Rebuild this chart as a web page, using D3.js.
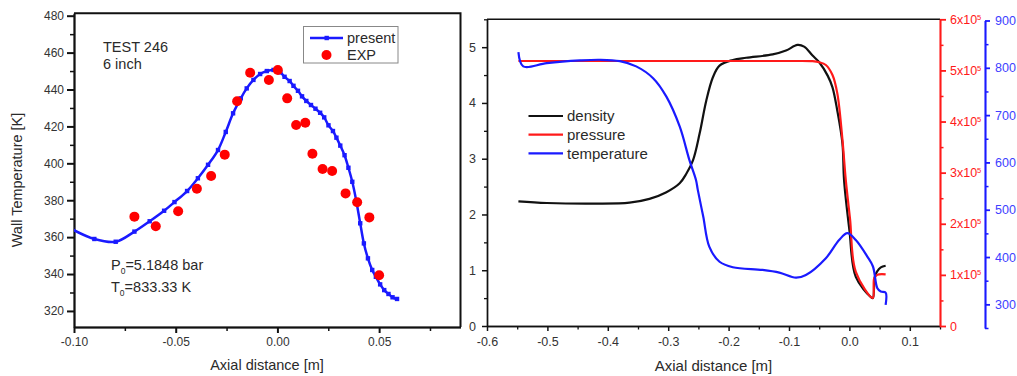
<!DOCTYPE html>
<html>
<head>
<meta charset="utf-8">
<script src="https://cdn.jsdelivr.net/npm/d3@7"></script>
<style>
  body { margin: 0; background: #fff; }
  svg { display: block; font-family: "Liberation Sans", Arial, sans-serif; }
</style>
</head>
<body>
<svg id="chart" width="1017" height="376"></svg>
<script>
// left panel: wall temperature, test 246
const wallX = [-0.101, -0.090, -0.0795, -0.0703, -0.0628, -0.0557, -0.0506, -0.0444, -0.0391, -0.0341,
  -0.0292, -0.0254, -0.0218, -0.018, -0.0151, -0.0118, -0.0085, -0.0052, -0.0019, 0.0014,
  0.0035, 0.006, 0.0079, 0.0101, 0.0121, 0.0142, 0.0165, 0.0187, 0.021, 0.023,
  0.0251, 0.0273, 0.029, 0.0309, 0.033, 0.0349, 0.0368, 0.0387, 0.0407, 0.0425,
  0.0445, 0.0466, 0.0484, 0.0505, 0.0525, 0.0546, 0.0566, 0.0588];
const wallT = [364.3, 359, 357.5, 363, 368.6, 374.3, 379, 385, 391.9, 399.2,
  407.2, 417, 427.1, 435.2, 440.6, 445.2, 448.4, 450, 450.6, 449.3,
  446.9, 444.6, 442, 439.3, 436.3, 433.8, 431.6, 429.6, 427.4, 424.9,
  420.6, 417.5, 413.9, 409.6, 404.4, 397.6, 390, 380, 367.5, 356.6,
  348.5, 342.2, 338.5, 334.4, 331.3, 329.2, 327.4, 326.5];
const expX = [-0.0703, -0.0598, -0.0488, -0.0396, -0.0326, -0.0259, -0.0198, -0.0134, -0.0042, 0.0002,
  0.0048, 0.0092, 0.0137, 0.0172, 0.0222, 0.0269, 0.0335, 0.0392, 0.0452, 0.050];
const expT = [371.1, 365.9, 374, 386.2, 393.1, 404.7, 433.6, 449.1, 445.2, 450.6,
  435.2, 420.8, 422, 405.2, 396.9, 395.8, 383.7, 378.9, 370.7, 339.3];
const leftXTicks = [-0.10, -0.05, 0.00, 0.05];
const leftYTicks = [320, 340, 360, 380, 400, 420, 440, 460, 480];

// right panel: flow quantities along the axis
const densX = [-0.548, -0.501, -0.419, -0.364, -0.331, -0.303, -0.281, -0.270, -0.259, -0.248,
  -0.237, -0.226, -0.215, -0.193, -0.171, -0.127, -0.105, -0.086, -0.075, -0.061,
  -0.050, -0.036, -0.028, -0.020, -0.0115, -0.0088, 0.000, 0.0106, 0.0353, 0.0388,
  0.042, 0.046, 0.052, 0.060];
const density = [2.236, 2.206, 2.195, 2.213, 2.28, 2.40, 2.56, 2.73, 2.97, 3.45,
  4.04, 4.46, 4.67, 4.77, 4.81, 4.87, 4.94, 5.04, 5.01, 4.85,
  4.73, 4.49, 4.28, 3.86, 3.27, 2.61, 1.72, 0.88, 0.52, 0.50,
  0.88, 0.98, 1.05, 1.08];
const presX = [-0.548, -0.30, -0.10, -0.061, -0.050, -0.039, -0.028, -0.020, -0.0115, -0.006,
  0.001, 0.0106, 0.0388, 0.041, 0.046, 0.060];
const pressure = [5.184e5, 5.184e5, 5.184e5, 5.18e5, 5.16e5, 5.106e5, 4.91e5, 4.55e5, 3.64e5, 2.86e5,
  2.1e5, 1.06e5, 0.55e5, 0.93e5, 1.0e5, 1.01e5];
const tempX = [-0.548, -0.540, -0.501, -0.446, -0.413, -0.380, -0.353, -0.325, -0.303, -0.281,
  -0.265, -0.254, -0.251, -0.242, -0.232, -0.215, -0.193, -0.144, -0.116, -0.0885,
  -0.072, -0.039, -0.017, -0.0033, 0.0106, 0.0297, 0.039, 0.0463, 0.052, 0.060, 0.060];
const temperature = [833, 803, 810, 815.6, 817, 814, 803, 778, 739, 676,
  605.5, 563, 542, 485.5, 422, 390, 378.4, 372.7, 367, 356.4,
  362, 397.5, 436, 450.4, 436, 401, 380, 334, 327, 324.7, 298.7];
const rightXTicks = [-0.6, -0.5, -0.4, -0.3, -0.2, -0.1, 0.0, 0.1];
const densTicks = [0, 1, 2, 3, 4, 5];
const presTicks = [0, 1e5, 2e5, 3e5, 4e5, 5e5, 6e5];
const tempTicks = [300, 400, 500, 600, 700, 800, 900];
const rightSeries = ["density", "pressure", "temperature"];

const svg = d3.select("#chart");
const ink = "#2a2a2a";
const RED = "#ff1a1a", BLUE = "#1a1aff";

function styleAxis(g, size, color, width) {
  g.selectAll("path,line").attr("stroke", color).attr("stroke-width", width);
  g.selectAll("text").attr("fill", color === "#111" ? "#333" : color)
    .style("font-size", size + "px").style("font-family", "Liberation Sans, Arial, sans-serif");
}

// ---------------- left panel ----------------
const xL = d3.scaleLinear().domain([-0.1, 0.09]).range([74, 460.5]);
const yL = d3.scaleLinear().domain([311.3, 481.3]).range([327, 13.3]);

svg.append("clipPath").attr("id", "clipL")
  .append("rect").attr("x", 74).attr("y", 13.3).attr("width", 386.5).attr("height", 313.7);

const gL = svg.append("g");

gL.append("g").attr("transform", "translate(0,327)")
  .call(d3.axisBottom(xL).tickValues(d3.range(-0.075, 0.09, 0.05)).tickSize(4).tickFormat("").tickSizeOuter(0))
  .call(g => styleAxis(g, 12, "#111", 1.5));
gL.append("g").attr("transform", "translate(0,327)")
  .call(d3.axisBottom(xL).tickValues(leftXTicks).tickSize(6).tickPadding(4).tickSizeOuter(0)
    .tickFormat(d => d.toFixed(2)))
  .call(g => styleAxis(g, 12, "#111", 2));
gL.append("g").attr("transform", "translate(74,0)")
  .call(d3.axisLeft(yL).tickValues(d3.range(330, 480, 20)).tickSize(4).tickFormat("").tickSizeOuter(0))
  .call(g => styleAxis(g, 12, "#111", 1.5));
gL.append("g").attr("transform", "translate(74,0)")
  .call(d3.axisLeft(yL).tickValues(leftYTicks).tickSize(7).tickPadding(3).tickSizeOuter(0)
    .tickFormat(d => String(d)))
  .call(g => styleAxis(g, 12, "#111", 2));

gL.append("path")
  .attr("d", `M${xL.range()[0]},${yL.range()[1]}H${xL.range()[1]}V${yL.range()[0]}`)
  .attr("fill", "none").attr("stroke", "#111").attr("stroke-width", 2);

const wallPts = wallX.map((x, i) => [x, wallT[i]]);
const plotL = gL.append("g").attr("clip-path", "url(#clipL)");
plotL.append("path")
  .attr("d", d3.line().x(d => xL(d[0])).y(d => yL(d[1])).curve(d3.curveCatmullRom.alpha(0.5))(wallPts))
  .attr("fill", "none").attr("stroke", BLUE).attr("stroke-width", 2.5);
plotL.selectAll("rect.mk").data(wallPts).join("rect").attr("class", "mk")
  .attr("x", d => xL(d[0]) - 2.2).attr("y", d => yL(d[1]) - 2.2)
  .attr("width", 4.4).attr("height", 4.4).attr("fill", BLUE);
plotL.selectAll("circle").data(expX.map((x, i) => [x, expT[i]])).join("circle")
  .attr("cx", d => xL(d[0])).attr("cy", d => yL(d[1])).attr("r", 5).attr("fill", "#ff0000");

// legend
gL.append("rect").attr("x", 303.5).attr("y", 26.5).attr("width", 94.5).attr("height", 36.5)
  .attr("fill", "#fff").attr("stroke", "#888").attr("stroke-width", 1);
gL.append("line").attr("x1", 310).attr("x2", 343).attr("y1", 38).attr("y2", 38)
  .attr("stroke", BLUE).attr("stroke-width", 2.5);
gL.append("rect").attr("x", 326.7 - 2.2).attr("y", 38 - 2.2).attr("width", 4.4).attr("height", 4.4).attr("fill", BLUE);
gL.append("circle").attr("cx", 326.5).attr("cy", 55).attr("r", 5).attr("fill", "#ff0000");
gL.append("text").attr("x", 347).attr("y", 43).text("present").attr("fill", ink).style("font-size", "14.5px");
gL.append("text").attr("x", 347).attr("y", 60).text("EXP").attr("fill", ink).style("font-size", "14.5px");

// annotations
gL.append("text").attr("x", 103).attr("y", 52.3).text("TEST 246").attr("fill", ink).style("font-size", "14.5px");
gL.append("text").attr("x", 103).attr("y", 69.3).text("6 inch").attr("fill", ink).style("font-size", "14.5px");
[["P", "=5.1848 bar", 270], ["T", "=833.33 K", 291.7]].forEach(([sym, rest, yb]) => {
  const t = gL.append("text").attr("x", 111).attr("y", yb).attr("fill", ink).style("font-size", "14.5px");
  t.append("tspan").text(sym);
  t.append("tspan").attr("dy", 4).style("font-size", "8.5px").text("0");
  t.append("tspan").attr("dy", -4).text(rest);
});

gL.append("text").attr("transform", "translate(22,180) rotate(-90)").attr("text-anchor", "middle")
  .text("Wall Temperature [K]").attr("fill", ink).style("font-size", "14.5px");
gL.append("text").attr("x", 267).attr("y", 370).attr("text-anchor", "middle")
  .text("Axial distance [m]").attr("fill", ink).style("font-size", "14.5px");

// ---------------- right panel ----------------
const xR = d3.scaleLinear().domain([-0.6, 0.15]).range([487, 940]);
const yD = d3.scaleLinear().domain([0, 5.5]).range([326, 19.3]);
const yP = d3.scaleLinear().domain([0, 6e5]).range([326, 19.3]);
const yT = d3.scaleLinear().domain([250, 900]).range([328, 20.5]);

const gR = svg.append("g");

gR.append("g").attr("transform", "translate(0,326)")
  .call(d3.axisBottom(xR).tickValues(d3.range(-0.55, 0.16, 0.1)).tickSize(3.5).tickFormat("").tickSizeOuter(0))
  .call(g => styleAxis(g, 12.5, "#111", 1.3));
gR.append("g").attr("transform", "translate(0,326)")
  .call(d3.axisBottom(xR).tickValues(rightXTicks).tickSize(5).tickPadding(6).tickSizeOuter(0)
    .tickFormat(d => d.toFixed(1)))
  .call(g => styleAxis(g, 12.5, "#111", 1.5));
gR.append("g").attr("transform", "translate(487,0)")
  .call(d3.axisLeft(yD).tickValues(d3.range(0.5, 5.6, 1)).tickSize(3).tickFormat("").tickSizeOuter(0))
  .call(g => styleAxis(g, 12.5, "#111", 1.3));
gR.append("g").attr("transform", "translate(487,0)")
  .call(d3.axisLeft(yD).tickValues(densTicks).tickSize(5).tickPadding(6).tickSizeOuter(0)
    .tickFormat(d => String(d)))
  .call(g => styleAxis(g, 12.5, "#111", 1.5));
gR.append("line").attr("x1", 487).attr("x2", 940).attr("y1", 19.3).attr("y2", 19.3)
  .attr("stroke", "#111").attr("stroke-width", 1.5);

// pressure axis
gR.append("g").attr("transform", "translate(940,0)")
  .call(d3.axisRight(yP).tickValues(d3.range(0.5e5, 6e5, 1e5)).tickSize(3.5).tickFormat("").tickSizeOuter(0))
  .call(g => styleAxis(g, 12.5, RED, 1.5));
gR.append("g").attr("transform", "translate(940,0)")
  .call(d3.axisRight(yP).tickValues(presTicks).tickSize(6).tickPadding(4).tickSizeOuter(0))
  .call(g => styleAxis(g, 12.5, RED, 1.8))
  .call(g => g.selectAll(".tick text").each(function (d) {
    const t = d3.select(this).text(null);
    if (d === 0) { t.text("0"); return; }
    t.append("tspan").text(`${d / 1e5}x10`);
    t.append("tspan").attr("dy", "-0.55em").style("font-size", "7.5px").text("5");
  }));

// temperature axis
gR.append("g").attr("transform", "translate(985,0)")
  .call(d3.axisRight(yT).tickValues(d3.range(250, 900, 100)).tickSize(3.5).tickFormat("").tickSizeOuter(0))
  .call(g => styleAxis(g, 12.5, BLUE, 1.5));
gR.append("g").attr("transform", "translate(985,0)")
  .call(d3.axisRight(yT).tickValues(tempTicks).tickSize(5).tickPadding(5).tickSizeOuter(0))
  .call(g => styleAxis(g, 12.5, BLUE, 1.8))
  .call(g => g.selectAll(".tick text").attr("fill", "#4040ff"));

const curve = d3.curveCatmullRom.alpha(0.5);
const seriesDefs = [
  { x: densX, v: density, y: yD, color: "#111" },
  { x: presX, v: pressure, y: yP, color: RED },
  { x: tempX, v: temperature, y: yT, color: BLUE }
];
seriesDefs.forEach(s => {
  const pts = s.x.map((x, i) => [x, s.v[i]]);
  gR.append("path")
    .attr("d", d3.line().x(d => xR(d[0])).y(d => s.y(d[1])).curve(curve)(pts))
    .attr("fill", "none").attr("stroke", s.color).attr("stroke-width", 2.2)
    .attr("stroke-linejoin", "round");
});

// legend
const legR = gR.append("g");
rightSeries.forEach((name, i) => {
  const yy = 116 + i * 18.7;
  legR.append("line").attr("x1", 528.5).attr("x2", 563).attr("y1", yy).attr("y2", yy)
    .attr("stroke", seriesDefs[i].color).attr("stroke-width", 2.2);
  legR.append("text").attr("x", 567).attr("y", yy).attr("dy", "0.35em").text(name)
    .attr("fill", ink).style("font-size", "15px");
});

gR.append("text").attr("x", 713.5).attr("y", 371).attr("text-anchor", "middle")
  .text("Axial distance [m]").attr("fill", ink).style("font-size", "15px");
</script>
</body>
</html>
